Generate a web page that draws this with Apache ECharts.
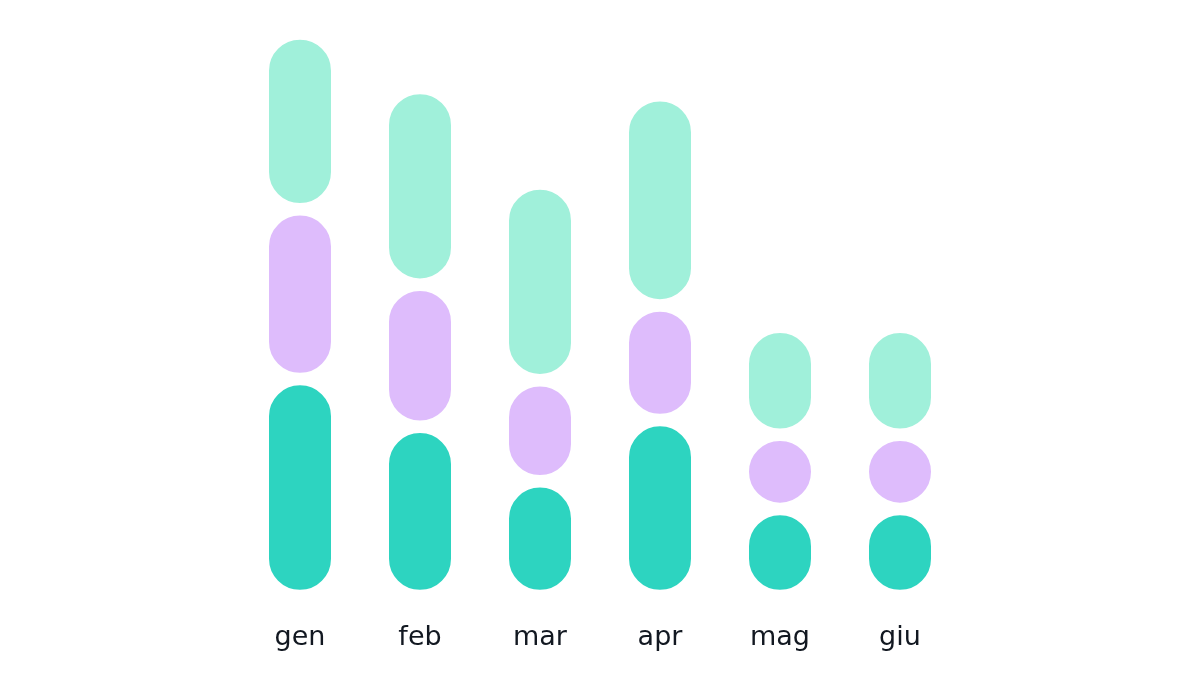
<!DOCTYPE html>
<html>
<head>
<meta charset="utf-8">
<script src="https://cdn.jsdelivr.net/npm/echarts@6/dist/echarts.min.js"></script>
<style>html,body{margin:0;padding:0;background:#fff;}#c{width:1200px;height:700px;}</style>
</head>
<body>
<div id="c"></div>
<script>
const categories = ['gen', 'feb', 'mar', 'apr', 'mag', 'giu'];
const bottomValues = [38.6, 30.1, 20.4, 31.3, 15.5, 15.5];
const middleValues = [30.2, 25.3, 18.0, 20.4, 13.2, 13.2];
const topValues = [31.3, 35.0, 35.0, 37.4, 19.2, 19.2];

const chart = echarts.init(document.getElementById('c'), null, {renderer: 'canvas'});
const seg = (name, data, color) => ({
  name, type: 'bar', stack: 'total', data,
  barWidth: 74.5,
  clip: false,
  itemStyle: {color, borderColor: '#ffffff', borderWidth: 6.25, borderRadius: 40},
  emphasis: {disabled: true}
});
chart.setOption({
  animation: false,
  backgroundColor: '#ffffff',
  grid: {left: 240, right: 240, top: 34, bottom: 104, containLabel: false},
  xAxis: {
    type: 'category', data: categories,
    axisLine: {show: false}, axisTick: {show: false},
    axisLabel: {margin: 28, fontFamily: 'DejaVu Sans', fontSize: 27, color: '#121821'}
  },
  yAxis: {type: 'value', min: 0, max: 100, show: false, splitLine: {show: false}},
  series: [
    seg('bottom', bottomValues, '#2dd4c0'),
    seg('middle', middleValues, '#debcfc'),
    seg('top', topValues, '#a0f0da')
  ]
});
</script>
</body>
</html>
